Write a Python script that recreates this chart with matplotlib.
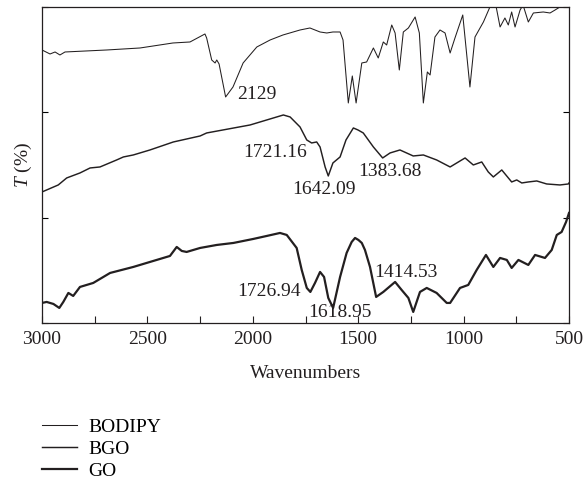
import numpy as np
import matplotlib
matplotlib.use("Agg")
import matplotlib.pyplot as plt

plt.rcParams['font.family'] = ['Liberation Serif', 'DejaVu Serif']
plt.rcParams['mathtext.fontset'] = 'custom'
plt.rcParams['mathtext.it'] = 'Liberation Serif:italic'
plt.rcParams['mathtext.rm'] = 'Liberation Serif'

# FTIR spectra (wavenumber, transmittance in arbitrary units)
bodipy_w = [3000, 2962, 2938, 2915, 2891, 2693, 2535, 2379, 2298, 2236, 2227, 2219, 2195,
            2179, 2171, 2160, 2129, 2094, 2046, 1981, 1918, 1857, 1776, 1729, 1681, 1649,
            1620, 1586, 1572, 1547, 1528, 1510, 1483, 1460, 1428, 1405, 1381, 1365, 1341,
            1325, 1305, 1286, 1262, 1230, 1210, 1191, 1172, 1159, 1136, 1112, 1088, 1064,
            1041, 1004, 970, 946, 906, 867, 851, 827, 804, 788, 772, 756, 732, 718, 693,
            669, 622, 590, 566, 543, 506, 500]
bodipy_t = [273, 269, 271, 268, 271, 273, 275, 280, 281, 288, 289, 285, 263,
            260, 263, 259, 226, 236, 260, 276, 283, 288, 293, 295, 291, 290,
            291, 291, 283, 220, 247, 220, 260, 261, 275, 265, 281, 278, 298,
            290, 253, 291, 295, 306, 290, 220, 251, 248, 286, 293, 290, 270,
            285, 308, 236, 286, 301, 320, 322, 296, 305, 298, 311, 296, 313, 318, 301,
            310, 311, 310, 313, 316, 316, 317]

bgo_w = [3000, 2923, 2883, 2820, 2772, 2725, 2646, 2614, 2567, 2488, 2377, 2250, 2219,
         2013, 1934, 1855, 1823, 1776, 1744, 1721, 1697, 1681, 1657, 1642, 1620, 1586,
         1558, 1523, 1501, 1476, 1428, 1384, 1349, 1302, 1239, 1191, 1128, 1064, 1009,
         993, 954, 914, 883, 859, 819, 772, 748, 724, 693, 653, 606, 543, 503, 500]
bgo_t = [131, 138, 145, 150, 155, 156, 163, 166, 168, 173, 181, 187, 190,
         198, 203, 208, 206, 196, 183, 180, 181, 176, 156, 147, 160, 166,
         183, 195, 193, 190, 176, 165, 170, 173, 167, 168, 163, 156, 163,
         165, 158, 161, 151, 146, 153, 141, 143, 140, 141, 142, 139, 138, 139, 140]

go_w = [3000, 2978, 2946, 2918, 2899, 2875, 2852, 2820, 2757, 2677, 2567, 2488, 2393,
        2361, 2337, 2314, 2250, 2171, 2092, 1998, 1934, 1871, 1839, 1792, 1768, 1744,
        1727, 1705, 1681, 1662, 1642, 1619, 1586, 1555, 1531, 1515, 1499, 1483, 1468,
        1444, 1415, 1381, 1325, 1294, 1262, 1239, 1207, 1175, 1128, 1080, 1064, 1017,
        978, 938, 894, 859, 827, 795, 772, 740, 693, 661, 614, 582, 558, 535, 514, 503, 500]
go_t = [20, 21, 19, 15, 21, 30, 27, 36, 40, 50, 56, 61, 67,
        76, 72, 71, 75, 78, 80, 84, 87, 90, 88, 75, 53, 35,
        31, 40, 51, 46, 25, 15, 46, 70, 81, 85, 83, 80, 73,
        56, 26, 31, 41, 33, 25, 11, 31, 35, 30, 20, 20, 35,
        38, 53, 68, 56, 65, 63, 55, 63, 58, 68, 65, 73, 88, 91, 101, 108, 110]

peak_labels = ['2129', '1721.16', '1642.09', '1383.68', '1726.94', '1618.95', '1414.53']
peak_x = [2076, 2046, 1814, 1501, 2073, 1738, 1425]
peak_y = [228, 170, 133, 151, 31, 10, 50]

ink = '#231f20'

fig = plt.figure(figsize=(5.86, 4.82), dpi=100)
ax = fig.add_axes([0.0717, 0.330, 0.8993, 0.6555])

ax.plot(bodipy_w, bodipy_t, color=ink, lw=0.75, label='BODIPY')
ax.plot(bgo_w, bgo_t, color=ink, lw=1.05, label='BGO')
ax.plot(go_w, go_t, color=ink, lw=1.6, label='GO')

for txt, x, y in zip(peak_labels, peak_x, peak_y):
    ax.text(x, y, txt, ha='left', va='center', fontsize=14, color=ink)

ax.set_xlim(3000, 500)
ax.set_ylim(0, 316)
ax.set_xticks([3000, 2500, 2000, 1500, 1000, 500])
ax.set_xticks([2750, 2250, 1750, 1250, 750], minor=True)
ax.set_yticks(np.linspace(0, 316, 4))
ax.set_yticklabels([])
ax.tick_params(axis='x', which='both', direction='in', length=5, width=0.8,
               labelsize=14, pad=6, colors=ink)
ax.tick_params(axis='y', direction='in', length=4, width=0.8, right=True)
for s in ax.spines.values():
    s.set_color(ink)
    s.set_linewidth(0.9)

ax.text(0.5, -0.161, 'Wavenumbers', transform=ax.transAxes, ha='center', va='center',
        fontsize=14, color=ink)
ax.text(-0.036, 0.5, '$T$ (%)', transform=ax.transAxes, ha='center', va='center',
        rotation=90, fontsize=14, color=ink)

fig.legend(loc='upper left', bbox_to_anchor=(0.0717, 0.132), frameon=False,
           fontsize=14, handlelength=1.8, handletextpad=0.6, labelspacing=0.22,
           borderaxespad=0, borderpad=0)

fig.savefig('out.png', dpi=100)
